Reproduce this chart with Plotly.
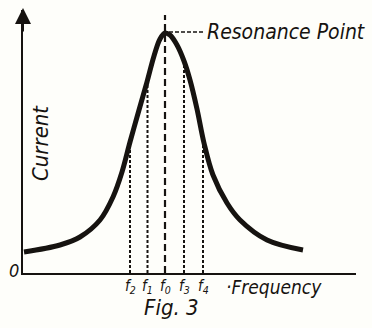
import numpy as np
import plotly.graph_objects as go

# Resonance curve (frequency vs current, arbitrary units)
freq = [1, 37, 57, 77, 90, 99, 107, 116, 124, 131, 137, 142,
        147, 154, 161, 167, 174, 181, 190, 204, 217, 244, 280]
current = [21, 28, 36, 53, 76, 101, 131, 163, 191, 217, 234, 240,
           238, 228, 212, 193, 164, 130, 98, 70, 53, 33, 23]

# Marked frequencies below the curve
mark_freq = [107, 124.5, 142, 161, 180]
mark_labels = ["f<sub>2</sub>", "f<sub>1</sub>", "f<sub>0</sub>", "f<sub>3</sub>", "f<sub>4</sub>"]

INK = "#161310"
FONT = "Liberation Sans Narrow, DejaVu Sans Condensed, Arial Narrow, sans-serif"

fig = go.Figure()

# Dashed verticals from the axis up to the curve
mark_top = np.interp(mark_freq, freq, current)
for f, top, lab in zip(mark_freq, mark_top, mark_labels):
    is_peak = lab.endswith("0</sub>")
    fig.add_trace(go.Scatter(
        x=[f, f], y=[0, 258 if is_peak else top], mode="lines",
        line=dict(color=INK, width=2.2 if is_peak else 2,
                  dash="7px,4px" if is_peak else "3px,2px"),
        hoverinfo="skip", showlegend=False))
    fig.add_annotation(x=f, y=0, yshift=-13, text=lab, showarrow=False,
                       font=dict(family=FONT, size=15, color=INK, style="italic"))

# Curve
fig.add_trace(go.Scatter(
    x=freq, y=current, mode="lines",
    line=dict(color=INK, width=5, shape="spline", smoothing=1.0),
    hoverinfo="skip", showlegend=False))

# Leader to the resonance label
fig.add_trace(go.Scatter(
    x=[146, 181], y=[241, 241], mode="lines",
    line=dict(color=INK, width=1.6, dash="4px,2px"),
    hoverinfo="skip", showlegend=False))

fig.add_annotation(x=182, y=241, text="Resonance Point", showarrow=False,
                   xanchor="left", font=dict(family=FONT, size=21, color=INK, style="italic"))
fig.add_annotation(x=17, y=130, text="Current", showarrow=False, textangle=-90,
                   font=dict(family=FONT, size=22, color=INK, style="italic"))
fig.add_annotation(x=0, y=0, xshift=-9, yshift=3, text="0", showarrow=False,
                   font=dict(family=FONT, size=18, color=INK, style="italic"))
fig.add_annotation(x=201, y=0, yshift=-14, text="·Frequency", showarrow=False,
                   xanchor="left", font=dict(family=FONT, size=19, color=INK, style="italic"))
fig.add_annotation(x=148, y=0, yshift=-34, text="Fig. 3", showarrow=False,
                   font=dict(family=FONT, size=22, color=INK, style="italic"))

# Arrowhead on the current axis
fig.add_annotation(x=0, y=265, ax=0, ay=240, axref="x", ayref="y", text="",
                   showarrow=True, arrowhead=2, arrowsize=1.6, arrowwidth=2,
                   arrowcolor=INK)

fig.update_xaxes(range=[0, 333], showline=True, linecolor=INK, linewidth=2.2,
                 showgrid=False, zeroline=False, showticklabels=False, ticks="")
fig.update_yaxes(range=[0, 263], showline=True, linecolor=INK, linewidth=2.2,
                 showgrid=False, zeroline=False, showticklabels=False, ticks="")

fig.update_layout(
    width=372, height=328,
    margin=dict(l=23, r=16, t=10, b=55),
    paper_bgcolor="#fefefa", plot_bgcolor="#fefefa",
)

fig.write_html("out.html")
